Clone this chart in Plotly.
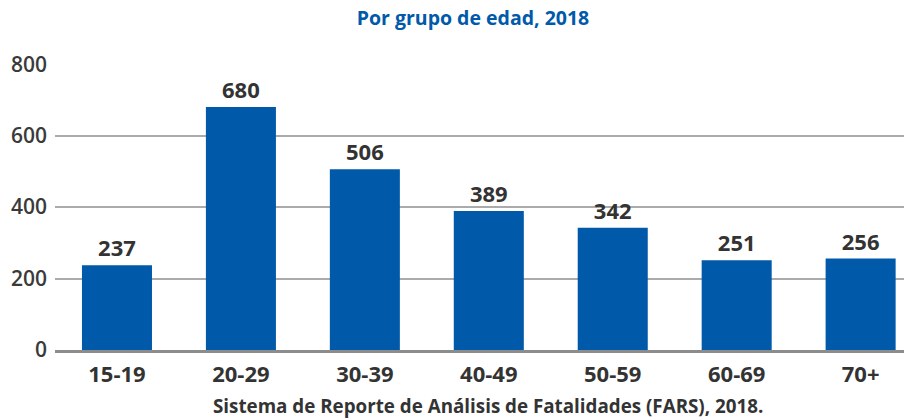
import plotly.graph_objects as go

categories = ["15-19", "20-29", "30-39", "40-49", "50-59", "60-69", "70+"]
values = [237, 680, 506, 389, 342, 251, 256]
y_ticks = [0, 200, 400, 600, 800]
title_text = "Por grupo de edad, 2018"
caption_text = "Sistema de Reporte de Análisis de Fatalidades (FARS), 2018."

BLUE = "#0059A9"
DARK = "#333333"
FONT = "Open Sans"

fig = go.Figure(
    go.Bar(
        x=list(range(len(categories))),
        y=values,
        marker=dict(color=BLUE, line=dict(width=0)),
        text=[str(v) for v in values],
        textposition="outside",
        textfont=dict(family=FONT, size=22, color=DARK, weight="bold"),
        cliponaxis=False,
        width=0.565,
    )
)

fig.update_layout(
    width=904,
    height=419,
    margin=dict(l=55, r=0, t=64, b=69),
    paper_bgcolor="white",
    plot_bgcolor="white",
    showlegend=False,
    title=dict(
        text=title_text,
        x=473 / 904,
        xref="container",
        xanchor="center",
        y=1 - 18 / 419,
        yref="container",
        yanchor="middle",
        font=dict(family=FONT, size=19.5, color=BLUE, weight="bold"),
    ),
    xaxis=dict(
        tickmode="array",
        tickvals=list(range(len(categories))),
        ticktext=categories,
        range=[-0.5, 6.35],
        showgrid=False,
        zeroline=False,
        showline=True,
        linecolor="#8c8c8c",
        linewidth=3,
        ticks="",
        ticklabelstandoff=3,
        tickfont=dict(family=FONT, size=22, color=DARK, weight="bold"),
    ),
    yaxis=dict(
        range=[0, 800.5],
        tickmode="array",
        tickvals=y_ticks,
        ticktext=[str(t) for t in y_ticks],
        showgrid=True,
        gridcolor="#ababab",
        gridwidth=1.5,
        zeroline=False,
        showline=False,
        ticks="",
        ticklabelstandoff=7,
        tickfont=dict(family=FONT, size=21, color="#3a3a3a", weight=600),
    ),
    annotations=[
        dict(
            text=caption_text,
            xref="paper",
            yref="paper",
            x=(488 - 55) / 849,
            y=0,
            xanchor="center",
            yanchor="middle",
            yshift=-56,
            showarrow=False,
            font=dict(family=FONT, size=18.8, color=DARK, weight="bold"),
        )
    ],
)

fig.write_html(
    "out.html",
    config={"displayModeBar": False},
    post_script="document.body.style.margin='0';document.body.style.padding='0';",
)
